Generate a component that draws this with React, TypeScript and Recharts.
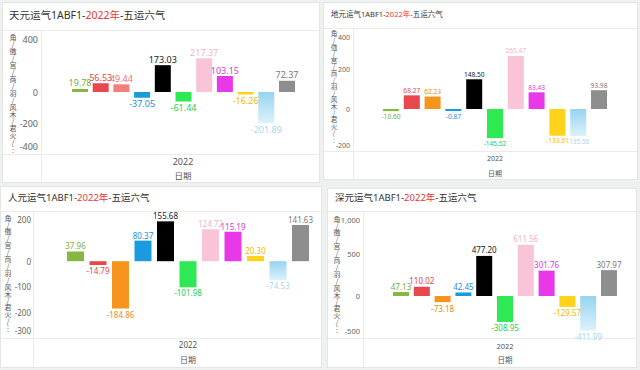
import React from "react";
import { BarChart, Bar, XAxis, YAxis, LabelList } from "recharts";

const FONT = "'Segoe UI', 'Noto Sans', 'Noto Sans CJK SC', sans-serif";

const seriesNames = ["角", "徵", "宫", "商", "羽", "风木", "君火", "相火", "湿土", "燥金", "寒水"];
const category = "2022";
const xAxisTitle = "日期";
const yAxisTitle = "角/徵/宫/商/羽/风木/君火/…";

const tianValues = [19.78, 56.53, 49.44, -37.05, 173.03, -61.44, 217.37, 103.15, -16.26, -201.89, 72.37];
const diValues = [-10.6, 68.27, 62.23, -0.87, 148.5, -145.52, 265.47, 83.43, -133.61, -135.56, 93.98];
const renValues = [37.96, -14.79, -184.86, 80.37, 155.68, -101.98, 124.72, 115.19, 20.3, -74.53, 141.63];
const shenValues = [47.13, 110.02, -73.18, 42.45, 477.2, -308.95, 611.56, 301.76, -129.57, -411.99, 307.97];

const tianTicks = [-400, -200, 0, 200, 400];
const diTicks = [-200, 0, 200, 400];
const renTicks = [-300, -200, -100, 0, 100, 200];
const shenTicks = [-500, 0, 500, 1000];

const barColors = ["#84b842", "#e8474d", "#f7941d", "#1a9be0", "#000000", "#2ee854", "#f9c4d7", "#e838e8", "#ffd21c", "GRAD", "#8e8e8e"];
const tianBarColors = ["#84b842", "#e8474d", "#f47e7e", "#1a9be0", "#000000", "#2ee854", "#f9c4d7", "#e838e8", "#ffd21c", "GRAD", "#8e8e8e"];
const labelColors = ["#7aae3a", "#e0474c", "#ee8a12", "#1a8fd6", "#222222", "#24d04a", "#f2b3c9", "#d83ad8", "#efb800", "#a6d7ee", "#7a7a7a"];
const tianLabelColors = ["#7aae3a", "#e0474c", "#f07070", "#1a8fd6", "#222222", "#24d04a", "#f2b3c9", "#d83ad8", "#efb800", "#a6d7ee", "#7a7a7a"];

type Cfg = {
  id: string;
  lead: string;
  year: string;
  tail: string;
  values: number[];
  ticks: number[];
  domain: [number, number];
  colors: string[];
  lcolors: string[];
  box: { x: number; y: number; w: number; h: number };
  titleX: number;
  titleY: number;
  titleSize: number;
  lineY: number;
  plotTop: number;
  plotBottom: number;
  plotLeft: number;
  plotCenter: number;
  tickRight: number;
  tickPad: number;
  yTitleX: number;
  yTitleFirst: number;
  yTitleSize: number;
  xTickY: number;
  xTitleY: number;
  tickSize: number;
  axisTitleSize: number;
  valueSize: number;
  labelOff: number;
  barSize: number;
  barGap: number;
};

const panels: Cfg[] = [
  {
    id: "tian", lead: "天元运气1ABF1-", year: "2022年", tail: "-五运六气",
    values: tianValues, ticks: tianTicks, domain: [-400, 400], colors: tianBarColors, lcolors: tianLabelColors,
    box: { x: 2, y: 2, w: 318, h: 181 }, titleX: 8, titleY: 14, titleSize: 10.5, lineY: 29,
    plotTop: 29, plotBottom: 153, plotLeft: 40, plotCenter: 182, tickRight: 37, tickPad: 7.5,
    yTitleX: 12, yTitleFirst: 36, yTitleSize: 7, xTickY: 160, xTitleY: 174,
    tickSize: 9, axisTitleSize: 8.5, valueSize: 9, labelOff: 6, barSize: 16, barGap: 4.7,
  },
  {
    id: "di", lead: "地元运气1ABF1-", year: "2022年", tail: "-五运六气",
    values: diValues, ticks: diTicks, domain: [-210, 400], colors: barColors, lcolors: labelColors,
    box: { x: 323, y: 2, w: 315, h: 178 }, titleX: 330, titleY: 13, titleSize: 7.5, lineY: 27,
    plotTop: 28, plotBottom: 150, plotLeft: 352, plotCenter: 494, tickRight: 349, tickPad: 6,
    yTitleX: 333, yTitleFirst: 33, yTitleSize: 6.6, xTickY: 157, xTitleY: 172,
    tickSize: 7, axisTitleSize: 7, valueSize: 6.6, labelOff: 5, barSize: 16, barGap: 4.8,
  },
  {
    id: "ren", lead: "人元运气1ABF1-", year: "2022年", tail: "-五运六气",
    values: renValues, ticks: renTicks, domain: [-300, 200], colors: barColors, lcolors: labelColors,
    box: { x: 0, y: 186, w: 322, h: 182 }, titleX: 7, titleY: 197, titleSize: 9.5, lineY: 210,
    plotTop: 209, plotBottom: 337, plotLeft: 32, plotCenter: 187, tickRight: 30, tickPad: 8,
    yTitleX: 7, yTitleFirst: 217, yTitleSize: 6.9, xTickY: 343, xTitleY: 358,
    tickSize: 8, axisTitleSize: 8, valueSize: 8, labelOff: 5.5, barSize: 17, barGap: 5.5,
  },
  {
    id: "shen", lead: "深元运气1ABF1-", year: "2022年", tail: "-五运六气",
    values: shenValues, ticks: shenTicks, domain: [-500, 1000], colors: barColors, lcolors: labelColors,
    box: { x: 327, y: 188, w: 310, h: 180 }, titleX: 334, titleY: 197, titleSize: 9.5, lineY: 210,
    plotTop: 211, plotBottom: 337, plotLeft: 362, plotCenter: 504, tickRight: 359, tickPad: 7,
    yTitleX: 336, yTitleFirst: 218, yTitleSize: 6.9, xTickY: 345, xTitleY: 359,
    tickSize: 7.5, axisTitleSize: 7.5, valueSize: 8, labelOff: 6, barSize: 16, barGap: 4.8,
  },
];

function Panel({ c }: { c: Cfg }) {
  const b = c.box;
  const top = Math.min(c.lineY, c.plotTop);
  const chartH = b.y + b.h - top;
  const yAxisW = c.plotLeft - b.x;
  const chartW = yAxisW + 2 * (c.plotCenter - c.plotLeft);
  const xAxisH = b.y + b.h - c.plotBottom;
  const row: Record<string, any> = { year: category };
  c.values.forEach((v, i) => (row["s" + i] = v));
  const data = [row];
  const relTop = c.plotTop - top;
  const relBot = c.plotBottom - top;
  const gradId = "grad-" + c.id;

  const yTick = (p: any) => {
    const y = Math.max(relTop + c.tickPad, Math.min(relBot - c.tickPad, Number(p.y)));
    return (
      <text x={c.tickRight - b.x} y={y} textAnchor="end" dominantBaseline="central" fontSize={c.tickSize} fill="#666" fontFamily={FONT}>
        {Number(p.payload.value).toLocaleString("en-US")}
      </text>
    );
  };
  const xTick = (p: any) => (
    <text x={p.x} y={c.xTickY - top} textAnchor="middle" dominantBaseline="central" fontSize={c.tickSize} fill="#555" fontFamily={FONT}>
      {p.payload.value}
    </text>
  );
  const makeLabel = (color: string) => (p: any) => {
    const v = Number(p.value);
    const y = Number(p.y);
    const h = Number(p.height);
    const t = Math.min(y, y + h);
    const bt = Math.max(y, y + h);
    const cx = Number(p.x) + Number(p.width) / 2;
    return (
      <text x={cx} y={v >= 0 ? t - c.labelOff : bt + c.labelOff} textAnchor="middle" dominantBaseline="central" fontSize={c.valueSize} fill={color} fontFamily={FONT}>
        {v.toFixed(2)}
      </text>
    );
  };
  const yTitle = () => (
    <text
      x={c.yTitleX - b.x}
      y={c.yTitleFirst - top - c.yTitleSize / 2}
      fontSize={c.yTitleSize}
      fill="#555"
      fontFamily="'Noto Sans CJK SC', sans-serif"
      style={{ writingMode: "vertical-rl", textOrientation: "upright" } as any}
    >
      {yAxisTitle}
    </text>
  );
  const xTitle = () => (
    <text x={c.plotCenter - b.x} y={c.xTitleY - top} textAnchor="middle" dominantBaseline="central" fontSize={c.axisTitleSize} fill="#555" fontFamily={FONT}>
      {xAxisTitle}
    </text>
  );

  return (
    <div style={{ position: "absolute", left: b.x, top: b.y, width: b.w, height: b.h, background: "#fff", border: "1px solid #e4e6e4", boxSizing: "border-box", overflow: "hidden" }}>
      <div style={{ position: "absolute", left: c.titleX - b.x, top: c.titleY - b.y - c.titleSize * 0.7, fontSize: c.titleSize, lineHeight: c.titleSize * 1.4 + "px", fontFamily: FONT, color: "#333", whiteSpace: "nowrap" }}>
        {c.lead}
        <span style={{ color: "#e5383b" }}>{c.year}</span>
        {c.tail}
      </div>
      <div style={{ position: "absolute", left: 0, right: 0, top: c.lineY - b.y, height: 1, background: "#ebebeb" }} />
      <div style={{ position: "absolute", left: 0, right: 0, top: c.plotBottom - b.y, height: 1, background: "#ebebeb" }} />
      <div style={{ position: "absolute", left: c.plotLeft - b.x, width: 1, top: c.lineY - b.y, bottom: 0, background: "#ebebeb" }} />
      <div style={{ position: "absolute", left: 0, top: top - b.y }}>
        <BarChart width={chartW} height={chartH} data={data} margin={{ top: relTop, right: 0, bottom: 0, left: 0 }} barGap={c.barGap}>
          <defs>
            <linearGradient id={gradId} x1="0" y1="0" x2="0" y2="1">
              <stop offset="0%" stopColor="#96d4f0" />
              <stop offset="100%" stopColor="#dcf2fb" />
            </linearGradient>
          </defs>
          <XAxis dataKey="year" type="category" height={xAxisH} axisLine={false} tickLine={false} tick={xTick} label={{ value: xAxisTitle, content: xTitle }} />
          <YAxis type="number" domain={c.domain} ticks={c.ticks} allowDataOverflow width={yAxisW} axisLine={false} tickLine={false} tick={yTick} label={{ value: "y", content: yTitle }} />
          {seriesNames.map((n, i) => (
            <Bar key={n} dataKey={"s" + i} name={n} fill={c.colors[i] === "GRAD" ? `url(#${gradId})` : c.colors[i]} barSize={c.barSize} minPointSize={2} isAnimationActive={false}>
              <LabelList dataKey={"s" + i} content={makeLabel(c.lcolors[i])} />
            </Bar>
          ))}
        </BarChart>
      </div>
    </div>
  );
}

export default function App() {
  return (
    <div style={{ position: "absolute", left: 0, top: 0, width: 640, height: 370, background: "#eef1ef", overflow: "hidden" }}>
      {panels.map((c) => (
        <Panel key={c.id} c={c} />
      ))}
    </div>
  );
}
